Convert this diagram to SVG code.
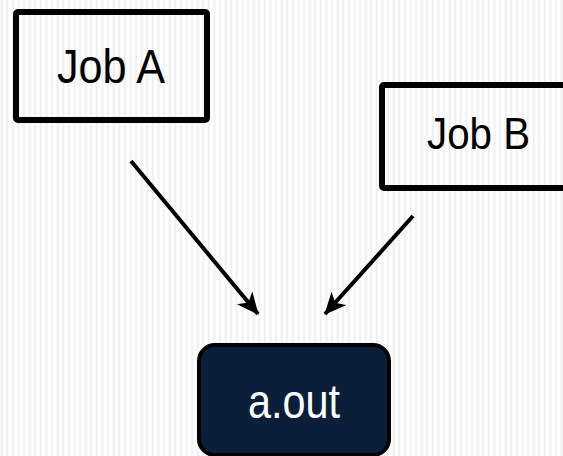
<svg xmlns="http://www.w3.org/2000/svg" width="563" height="456" viewBox="0 0 563 456">
  <defs>
    <linearGradient id="stripe-shade" x1="0" y1="0" x2="1" y2="0">
      <stop offset="0" stop-color="#ffffff"/>
      <stop offset="0.5" stop-color="#ebebeb"/>
      <stop offset="1" stop-color="#ffffff"/>
    </linearGradient>
    <pattern id="stripes" x="0" y="0" width="5.6" height="10" patternUnits="userSpaceOnUse">
      <rect x="0" y="0" width="5.6" height="10" fill="#ffffff"/>
      <rect x="0" y="0" width="3.4" height="10" fill="url(#stripe-shade)"/>
    </pattern>
    <marker id="arrow" viewBox="0 0 22 20" refX="21" refY="10" markerWidth="22" markerHeight="20" markerUnits="userSpaceOnUse" orient="auto">
      <path d="M0,0 L22,10 L0,20 L6,10 Z" fill="#000"/>
    </marker>
    <style>
      .job { fill: none; stroke: #000; stroke-width: 6; }
      .label { font-family: "Liberation Sans", Arial, sans-serif; text-anchor: middle; }
      .edge { stroke: #000; stroke-width: 4; fill: none; marker-end: url(#arrow); }
    </style>
  </defs>

  <rect x="0" y="0" width="563" height="456" fill="url(#stripes)"/>

  <g id="connectors">
    <line class="edge" x1="131" y1="161" x2="258" y2="314"/>
    <line class="edge" x1="413" y1="216" x2="325" y2="314"/>
  </g>

  <g id="job-a">
    <rect class="job" x="16" y="12" width="191" height="108" rx="2"/>
    <text class="label" x="111" y="83" font-size="48" textLength="108" lengthAdjust="spacingAndGlyphs">Job A</text>
  </g>

  <g id="job-b">
    <rect class="job" x="382" y="85" width="200" height="103" rx="2"/>
    <text class="label" x="478.5" y="149" font-size="45" textLength="103" lengthAdjust="spacingAndGlyphs">Job B</text>
  </g>

  <g id="a-out">
    <rect x="199" y="345" width="190" height="110" rx="16" fill="#0b1f3a" stroke="#000" stroke-width="4"/>
    <text class="label" x="294" y="418" font-size="48" fill="#ffffff" textLength="92" lengthAdjust="spacingAndGlyphs">a.out</text>
  </g>
</svg>
